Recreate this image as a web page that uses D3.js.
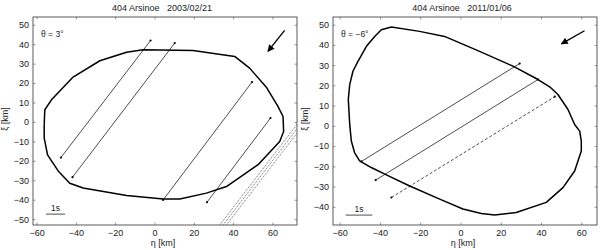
<!DOCTYPE html>
<html>
<head>
<meta charset="utf-8">
<script src="https://cdn.jsdelivr.net/npm/d3@7"></script>
<style>
  body { margin: 0; background: #fff; }
  svg { display: block; font-family: "Liberation Sans", Arial, sans-serif; }
  .tick text { font-size: 9px; fill: #222; }
  .tick line { stroke: #555; stroke-width: 0.6; }
</style>
</head>
<body>
<svg id="chart" width="600" height="250"></svg>
<script>
// ticks
const ticksEta = [-60, -40, -20, 0, 20, 40, 60];
const ticksXi2003 = [-50, -40, -30, -20, -10, 0, 10, 20, 30, 40, 50];
const ticksXi2011 = [-40, -30, -20, -10, 0, 10, 20, 30, 40, 50];

// 2003/02/21 profile (eta, xi) in km
const outline2003 = [
  [-56.1, -1.5], [-55.8, 6.3], [-52.4, 11.4], [-41.4, 23.1], [-27.8, 31.5],
  [-14.2, 35.9], [-5.8, 37.1], [19.6, 36.8], [40.8, 33.7], [48.4, 27.7],
  [56.9, 17.9], [62.8, 8.0], [65.4, 2.8], [65.7, -4.9], [63.7, -10.0],
  [52.7, -22.0], [36.6, -33.2], [26.4, -36.6], [12.9, -39.6], [4.4, -39.6],
  [-14.2, -37.8], [-36.3, -34.0], [-43.1, -31.5], [-49.0, -25.2],
  [-54.4, -16.9], [-56.1, -8.3], [-56.1, -1.5]
];
// chords: eta1, xi1, eta2, xi2
const chords2003 = [
  [-47.6, -18.3, -2.0, 41.9],
  [-41.7, -28.4, 10.3, 40.6],
  [4.4, -40.1, 49.6, 20.5],
  [26.7, -41.3, 59.0, 2.0]
];
// negative (miss) chords, dotted
const misses2003 = [
  [30.9, -56, 75.0, 2],
  [32.6, -56, 76.7, 2],
  [34.3, -56, 78.4, 2]
];

// 2011/01/06 profile
const outline2011 = [
  [-34.3, 48.9], [-39.3, 47.5], [-42.6, 44.2], [-46.7, 39.3], [-50.9, 31.9],
  [-53.4, 27.0], [-55.0, 20.4], [-55.7, 13.1], [-55.0, 0.7], [-54.2, -7.5],
  [-52.6, -13.2], [-50.1, -17.3], [-44.3, -20.6], [-36.8, -24.2],
  [-25.2, -29.7], [-10.3, -36.2], [1.2, -41.1], [10.4, -43.3], [17.0, -44.1],
  [27.7, -42.8], [42.6, -37.8], [50.9, -30.5], [56.7, -22.3], [60.0, -12.4],
  [60.0, -7.5], [59.2, -2.6], [56.7, 0.7], [53.4, 8.1], [48.4, 15.5],
  [44.3, 19.3], [38.5, 22.9], [26.1, 29.5], [9.5, 36.8], [-7.9, 44.2],
  [-20.3, 46.7], [-34.3, 48.9]
];
const chords2011 = [
  [-49.2, -17.6, 29.4, 30.8],
  [-42.1, -26.8, 38.5, 22.9]
];
const dashed2011 = [
  [-34.3, -35.4, 46.8, 14.4]
];

const panels = [
  {
    title: "404 Arsinoe   2003/02/21", theta: "\u03b8 = 3\u00b0",
    frame: { x0: 33, x1: 297, y0: 17, y1: 225 },
    etaDomain: [-61.8, 72.5], xiDomain: [-53, 54], xiTicks: ticksXi2003,
    outline: outline2003, chords: chords2003, dotted: misses2003, dashed: [],
    arrow: [66.2, 47.1, 57.7, 36.3], bar: [-55.2, -45.5, -47.4]
  },
  {
    title: "404 Arsinoe   2011/01/06", theta: "\u03b8 = \u22126\u00b0",
    frame: { x0: 333, x1: 597, y0: 17, y1: 225 },
    etaDomain: [-63.3, 67.8], xiDomain: [-49, 53.8], xiTicks: ticksXi2011,
    outline: outline2011, chords: chords2011, dotted: [], dashed: dashed2011,
    arrow: [61.6, 47.0, 50.1, 40.5], bar: [-57.0, -43.8, -44.1]
  }
];

const svg = d3.select("#chart");

svg.append("defs").append("marker")
  .attr("id", "head")
  .attr("viewBox", "0 0 10 10")
  .attr("refX", 9).attr("refY", 5)
  .attr("markerWidth", 5.5).attr("markerHeight", 5)
  .attr("markerUnits", "strokeWidth")
  .attr("orient", "auto")
  .append("path").attr("d", "M0,0L10,5L0,10z").attr("fill", "#000");

panels.forEach((p, k) => {
  const f = p.frame;
  const x = d3.scaleLinear().domain(p.etaDomain).range([f.x0, f.x1]);
  const y = d3.scaleLinear().domain(p.xiDomain).range([f.y1, f.y0]);
  const g = svg.append("g");

  g.append("clipPath").attr("id", "clip" + k)
    .append("rect").attr("x", f.x0).attr("y", f.y0)
    .attr("width", f.x1 - f.x0).attr("height", f.y1 - f.y0);

  // ticks inside the box, on all four sides
  const ax = (a, t) => a.tickValues(t).tickSizeInner(-2.5).tickSizeOuter(0);
  const minus = d => d < 0 ? "\u2212" + (-d) : d;
  g.append("g").attr("transform", `translate(0,${f.y1})`)
    .call(ax(d3.axisBottom(x), ticksEta).tickPadding(5).tickFormat(minus));
  g.append("g").attr("transform", `translate(0,${f.y0})`)
    .call(ax(d3.axisTop(x), ticksEta).tickFormat(""));
  g.append("g").attr("transform", `translate(${f.x0},0)`)
    .call(ax(d3.axisLeft(y), p.xiTicks).tickPadding(4).tickFormat(minus));
  g.append("g").attr("transform", `translate(${f.x1},0)`)
    .call(ax(d3.axisRight(y), p.xiTicks).tickFormat(""));
  g.selectAll(".domain").remove();

  g.append("rect").attr("x", f.x0).attr("y", f.y0)
    .attr("width", f.x1 - f.x0).attr("height", f.y1 - f.y0)
    .attr("fill", "none").attr("stroke", "#333").attr("stroke-width", 0.8);

  const cx = (f.x0 + f.x1) / 2;
  g.append("text").attr("x", cx - 3).attr("y", 10.5).attr("text-anchor", "middle")
    .attr("font-size", 9).attr("fill", "#222").attr("xml:space", "preserve").text(p.title);
  g.append("text").attr("x", cx - 2).attr("y", 246).attr("text-anchor", "middle")
    .attr("font-size", 9).attr("fill", "#222").text("\u03b7 [km]");
  g.append("text").attr("transform", `translate(${f.x0 - 25},${(f.y0 + f.y1) / 2 - 2}) rotate(-90)`)
    .attr("text-anchor", "middle").attr("font-size", 9).attr("fill", "#222").text("\u03be [km]");
  g.append("text").attr("x", f.x0 + 8).attr("y", f.y0 + 19.5)
    .attr("font-size", 8.5).attr("fill", "#222").text(p.theta);

  const plot = g.append("g").attr("clip-path", `url(#clip${k})`);

  plot.append("path").datum(p.outline)
    .attr("d", d3.line().x(d => x(d[0])).y(d => y(d[1])))
    .attr("fill", "none").attr("stroke", "#000").attr("stroke-width", 1.5)
    .attr("stroke-linejoin", "round");

  const seg = (sel, data, dash, w, col) => sel.selectAll(null).data(data).enter().append("line")
    .attr("x1", d => x(d[0])).attr("y1", d => y(d[1]))
    .attr("x2", d => x(d[2])).attr("y2", d => y(d[3]))
    .attr("stroke", col).attr("stroke-width", w)
    .attr("stroke-dasharray", dash);

  seg(plot, p.chords, null, 0.7, "#000");
  seg(plot, p.dashed, "3,2", 0.7, "#000");
  seg(plot, p.dotted, "1,1", 0.8, "#444");

  const ends = p.chords.concat(p.dashed).flatMap(d => [[d[0], d[1]], [d[2], d[3]]]);
  plot.selectAll(null).data(ends).enter().append("circle")
    .attr("cx", d => x(d[0])).attr("cy", d => y(d[1])).attr("r", 1.1).attr("fill", "#000");

  // motion direction arrow
  g.append("line")
    .attr("x1", x(p.arrow[0])).attr("y1", y(p.arrow[1]))
    .attr("x2", x(p.arrow[2])).attr("y2", y(p.arrow[3]))
    .attr("stroke", "#000").attr("stroke-width", 1.4).attr("marker-end", "url(#head)");

  // 1 s scale bar
  g.append("line")
    .attr("x1", x(p.bar[0])).attr("x2", x(p.bar[1]))
    .attr("y1", y(p.bar[2])).attr("y2", y(p.bar[2]))
    .attr("stroke", "#000").attr("stroke-width", 0.7);
  g.append("text").attr("x", (x(p.bar[0]) + x(p.bar[1])) / 2).attr("y", y(p.bar[2]) - 3)
    .attr("text-anchor", "middle").attr("font-size", 8.5).attr("fill", "#222").text("1s");
});
</script>
</body>
</html>
